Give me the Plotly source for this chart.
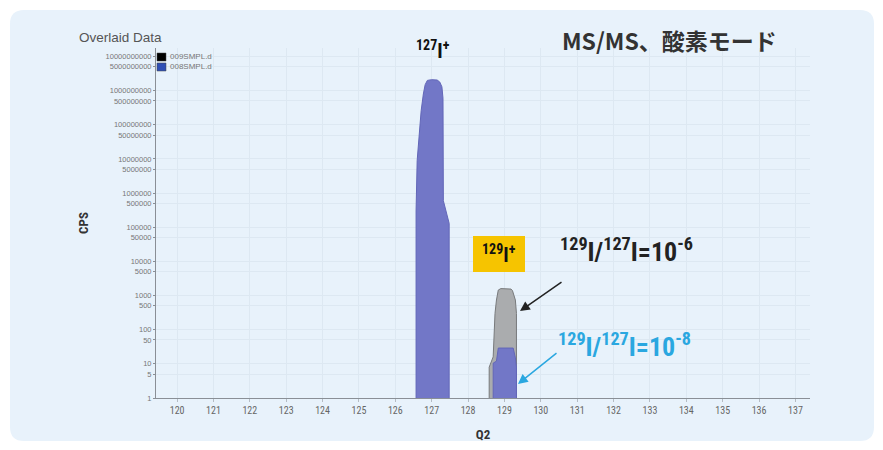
import plotly.graph_objects as go

# ---- data ----
mass_127 = [126.57, 126.57, 126.60, 126.71, 126.77, 126.82, 126.88, 127.00, 127.15, 127.22, 127.28, 127.31, 127.32, 127.40, 127.48, 127.48]
cps_127 = [1, 3e5, 9e6, 2.6e8, 8e8, 1.5e9, 2.0e9, 2.1e9, 2.05e9, 1.8e9, 1.3e9, 6e8, 6e5, 3e5, 1.3e5, 1]

mass_129_grey = [128.58, 128.58, 128.69, 128.74, 128.78, 128.83, 128.90, 129.10, 129.18, 129.22, 129.30, 129.33, 129.33]
cps_129_grey = [1, 8, 16, 300, 740, 1450, 1600, 1600, 1550, 1400, 740, 300, 1]

mass_129_blue = [128.69, 128.69, 128.78, 128.83, 129.24, 129.30, 129.33, 129.33]
cps_129_blue = [1, 10.5, 12, 29, 29, 15, 8, 1]

legend_names = ["009SMPL.d", "008SMPL.d"]
legend_colors = ["#000000", "#2f4fb5"]

x_ticks = list(range(120, 138))
y_tickvals = [1, 5, 10, 50, 100, 500, 1000, 5000, 10000, 50000, 100000, 500000,
              1000000, 5000000, 10000000, 50000000, 100000000, 500000000,
              1000000000, 5000000000, 10000000000]
y_ticktext = [str(v) for v in y_tickvals]

# ---- geometry helpers (screen pixel -> paper); page body has an 8px margin ----
OFF = 8
W, H = 883 - 2 * OFF, 450 - 2 * OFF
L, R, T, B = 148, 65, 40, 44
PW, PH = W - L - R, H - T - B


def px(x):
    return (x - OFF - L) / PW


def py(y):
    return (H - B - (y - OFF)) / PH


BLUE_FILL = "rgb(114,119,199)"
BLUE_LINE = "rgb(98,102,184)"
GREY_FILL = "rgb(170,172,174)"
GREY_LINE = "rgb(120,122,124)"
PANEL = "#e8f2fb"

fig = go.Figure()

fig.add_trace(go.Scatter(x=mass_129_grey, y=cps_129_grey, mode="lines", fill="toself",
                         fillcolor=GREY_FILL, line=dict(color=GREY_LINE, width=1),
                         name=legend_names[0], showlegend=False, hoverinfo="skip"))
fig.add_trace(go.Scatter(x=mass_127, y=cps_127, mode="lines", fill="toself",
                         fillcolor=BLUE_FILL, line=dict(color=BLUE_LINE, width=1),
                         name=legend_names[1], showlegend=False, hoverinfo="skip"))
fig.add_trace(go.Scatter(x=mass_129_blue, y=cps_129_blue, mode="lines", fill="toself",
                         fillcolor=BLUE_FILL, line=dict(color=BLUE_LINE, width=1),
                         name=legend_names[1], showlegend=False, hoverinfo="skip"))

# rounded panel background
x0, x1, y0, y1, r = 10, 874, 10, 441, 14


def P(x, y):
    return f"{px(x):.5f},{py(y):.5f}"


panel_path = (f"M {P(x0 + r, y0)} L {P(x1 - r, y0)} Q {P(x1, y0)} {P(x1, y0 + r)} "
              f"L {P(x1, y1 - r)} Q {P(x1, y1)} {P(x1 - r, y1)} "
              f"L {P(x0 + r, y1)} Q {P(x0, y1)} {P(x0, y1 - r)} "
              f"L {P(x0, y0 + r)} Q {P(x0, y0)} {P(x0 + r, y0)} Z")

shapes = [
    dict(type="path", path=panel_path, xref="paper", yref="paper",
         fillcolor=PANEL, line=dict(width=0), layer="below"),
    dict(type="rect", xref="paper", yref="paper", x0=px(473), x1=px(525), y0=py(272), y1=py(236),
         fillcolor="#f6c400", line=dict(width=0), layer="above"),
]

NARROW = "Liberation Sans Narrow, Roboto Condensed, Liberation Sans, Arial"

annotations = [
    dict(text="Overlaid Data", xref="paper", yref="paper", x=px(77), y=py(37),
         xanchor="left", yanchor="middle", showarrow=False,
         font=dict(family="Liberation Sans, Arial", size=13.5, color="#555555")),
    dict(text="MS/MS、酸素モード", xref="paper", yref="paper", x=px(669), y=py(40),
         xanchor="center", yanchor="middle", showarrow=False,
         font=dict(family="Noto Sans CJK JP", size=23, color="#333333", weight="bold")),
    dict(text="<b><sup>127</sup>I<sup>+</sup></b>", xref="paper", yref="paper", x=px(433), y=py(50),
         xanchor="center", yanchor="middle", showarrow=False,
         font=dict(family=NARROW, size=20, color="#111111")),
    dict(text="<b><sup>129</sup>I<sup>+</sup></b>", xref="paper", yref="paper", x=px(499), y=py(254),
         xanchor="center", yanchor="middle", showarrow=False,
         font=dict(family=NARROW, size=20, color="#111111")),
    dict(text="<b><sup>129</sup>I/<sup>127</sup>I=10<sup>-6</sup></b>", xref="paper", yref="paper",
         x=px(626), y=py(250), xanchor="center", yanchor="middle", showarrow=False,
         font=dict(family=NARROW, size=26, color="#222222")),
    dict(text="<b><sup>129</sup>I/<sup>127</sup>I=10<sup>-8</sup></b>", xref="paper", yref="paper",
         x=px(624), y=py(345), xanchor="center", yanchor="middle", showarrow=False,
         font=dict(family=NARROW, size=26, color="#2aa7e0")),
    # arrows
    dict(text="", xref="paper", yref="paper", x=px(520), y=py(311), ax=43, ay=-30,
         showarrow=True, arrowhead=2, arrowsize=1.3, arrowwidth=1.5, arrowcolor="#222222"),
    dict(text="", xref="paper", yref="paper", x=px(518), y=py(384), ax=40, ay=-32,
         showarrow=True, arrowhead=2, arrowsize=1.3, arrowwidth=1.5, arrowcolor="#2aa7e0"),
]

# compact legend (square swatch + file name)
for i, (n, c) in enumerate(zip(legend_names, legend_colors)):
    top = 53 + 10 * i
    shapes.append(dict(type="rect", xref="paper", yref="paper",
                       x0=px(157), x1=px(166), y0=py(top + 8), y1=py(top),
                       fillcolor=c, line=dict(width=0.5, color="#444444"), layer="above"))
    annotations.append(dict(
        text=n, xref="paper", yref="paper",
        x=px(168), y=py(top + 4), xanchor="left", yanchor="middle", showarrow=False,
        font=dict(family="Liberation Sans, Arial", size=8, color="#777777")))

fig.update_layout(
    width=W, height=H,
    margin=dict(l=L, r=R, t=T, b=B, autoexpand=False),
    paper_bgcolor="white",
    plot_bgcolor="rgba(0,0,0,0)",
    shapes=shapes,
    annotations=annotations,
    showlegend=False,
    font=dict(family=NARROW, color="#555555"),
)

fig.update_xaxes(
    range=[119.42, 137.4], tickvals=x_ticks, ticktext=[str(t) for t in x_ticks],
    showline=True, linecolor="#8a8f96", linewidth=1, automargin=False,
    showgrid=True, gridcolor="#dde8f2", gridwidth=1, zeroline=False,
    ticks="outside", ticklen=3, tickcolor="#b5bcc4",
    tickfont=dict(size=10, color="#666666", family=NARROW),
    title=dict(text="<b>Q2</b>", standoff=22, font=dict(size=13, color="#333333", family=NARROW)),
)
fig.update_yaxes(
    type="log", range=[0, 10.25], tickvals=y_tickvals, ticktext=y_ticktext,
    showline=True, linecolor="#8a8f96", linewidth=1, automargin=False,
    showgrid=True, gridcolor="#dde8f2", gridwidth=1, zeroline=False,
    ticks="outside", ticklen=2, tickcolor="#8a8f96",
    tickfont=dict(size=7.5, color="#777777", family="Liberation Sans, Arial"),
    title=dict(text="<b>CPS</b>", standoff=14, font=dict(size=13, color="#333333", family=NARROW)),
)

fig.write_html("out.html")
